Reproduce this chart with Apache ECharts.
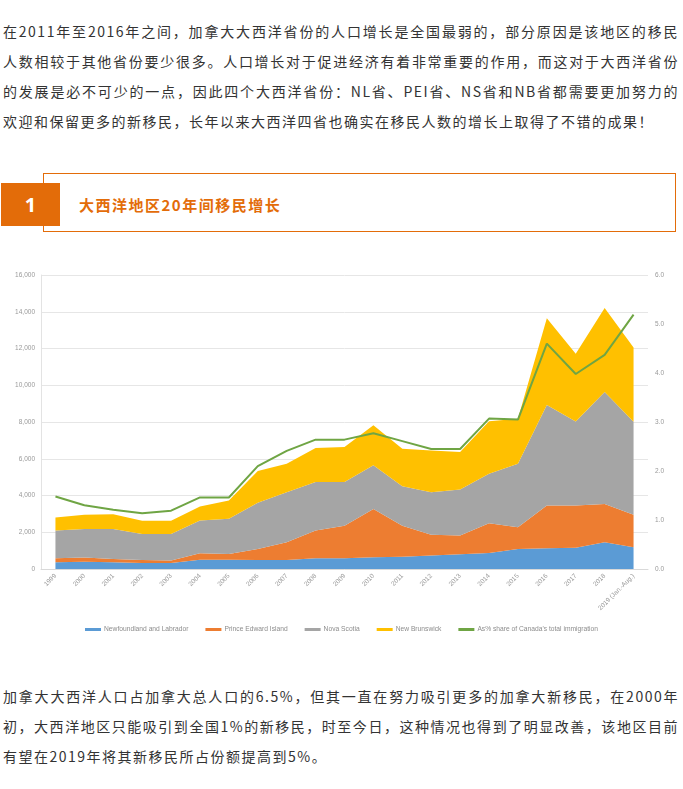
<!DOCTYPE html>
<html>
<head>
<meta charset="utf-8">
<script src="https://cdn.jsdelivr.net/npm/echarts@6/dist/echarts.min.js"></script>
<style>
  html, body { margin: 0; padding: 0; background: #fff; }
  body { width: 683px; height: 789px; position: relative; overflow: hidden;
         font-family: "Noto Sans CJK SC", "Noto Sans", sans-serif; color: #333; }
  .para { position: absolute; left: 3px; width: 676px; font-size: 14px; letter-spacing: 1.5px; line-height: 30px; }
  .para div { white-space: normal; }
  .j { text-align: justify; text-align-last: justify; }
  #box { position: absolute; left: 43px; top: 173px; width: 633px; height: 59px; border: 1px solid #E36C09; box-sizing: border-box; }
  #num { position: absolute; left: 1px; top: 183px; width: 59px; height: 43px; background: #E36C09; color: #fff;
         font-family: "Noto Sans", sans-serif; font-weight: bold; font-size: 20px; line-height: 43px; text-align: center; }
  #title { position: absolute; left: 79px; top: 194px; font-size: 15px; font-weight: bold; color: #E36C09; letter-spacing: 1.5px; line-height: 22px; }
  #chart { position: absolute; left: 0; top: 255px; width: 683px; height: 390px; }
</style>
</head>
<body>
<div class="para" style="top:16px;">
  <div class="j">在2011年至2016年之间，加拿大大西洋省份的人口增长是全国最弱的，部分原因是该地区的移民</div>
  <div class="j">人数相较于其他省份要少很多。人口增长对于促进经济有着非常重要的作用，而这对于大西洋省份</div>
  <div class="j">的发展是必不可少的一点，因此四个大西洋省份：NL省、PEI省、NS省和NB省都需要更加努力的</div>
  <div>欢迎和保留更多的新移民，长年以来大西洋四省也确实在移民人数的增长上取得了不错的成果！</div>
</div>
<div id="box"></div>
<div id="num">1</div>
<div id="title">大西洋地区20年间移民增长</div>
<div id="chart"></div>
<div class="para" style="top:681px;">
  <div class="j">加拿大大西洋人口占加拿大总人口的6.5%，但其一直在努力吸引更多的加拿大新移民，在2000年</div>
  <div class="j">初，大西洋地区只能吸引到全国1%的新移民，时至今日，这种情况也得到了明显改善，该地区目前</div>
  <div>有望在2019年将其新移民所占份额提高到5%。</div>
</div>
<script>
const categories = ['1999','2000','2001','2002','2003','2004','2005','2006','2007','2008','2009','2010','2011','2012','2013','2014','2015','2016','2017','2018','2019 (Jan.-Aug.)'];
const seriesNames = ['Newfoundland and Labrador','Prince Edward Island','Nova Scotia','New Brunswick',"As% share of Canada's total immigration"];
const nl  = [370, 400, 370, 330, 330, 510, 510, 490, 490, 580, 580, 640, 670, 730, 800, 870, 1090, 1130, 1160, 1450, 1180];
const pei = [210, 220, 180, 160, 130, 350, 310, 600, 970, 1510, 1780, 2630, 1690, 1130, 1020, 1620, 1180, 2330, 2290, 2090, 1770];
const ns  = [1510, 1560, 1630, 1420, 1450, 1780, 1910, 2510, 2720, 2640, 2370, 2370, 2150, 2320, 2510, 2690, 3460, 5460, 4580, 6090, 5060];
const nb  = [710, 770, 800, 710, 710, 760, 1000, 1730, 1550, 1850, 1910, 2180, 2030, 2270, 2040, 2860, 2450, 4730, 3690, 4580, 4040];
const share = [1.48, 1.30, 1.21, 1.14, 1.19, 1.46, 1.46, 2.10, 2.41, 2.64, 2.64, 2.77, 2.61, 2.45, 2.45, 3.07, 3.05, 4.60, 3.98, 4.37, 5.19];
const colors = ['#5B9BD5', '#ED7D31', '#A5A5A5', '#FFC000', '#6FA544'];

const chart = echarts.init(document.getElementById('chart'), null, { renderer: 'canvas' });
const areaSeries = (name, data, i) => ({
  name, type: 'line', stack: 'total', data, symbol: 'none', smooth: false,
  lineStyle: { width: 0 }, areaStyle: { color: colors[i], opacity: 1 },
  itemStyle: { color: colors[i] }, emphasis: { disabled: true }, z: 2
});
chart.setOption({
  animation: false,
  color: colors,
  grid: { left: 41, right: 35, top: 20, bottom: 76 },
  legend: {
    top: 366, left: 'center', icon: 'rect', itemWidth: 16, itemHeight: 3, itemGap: 17,
    textStyle: { fontSize: 6.7, color: '#8c8c8c', fontFamily: 'Liberation Sans', padding: [0, 0, 0, -2] },
    data: seriesNames
  },
  xAxis: {
    type: 'category', data: categories, boundaryGap: true,
    axisLine: { lineStyle: { color: '#d9d9d9' } },
    axisTick: { show: false },
    axisLabel: { rotate: 45, interval: 0, fontSize: 6.5, color: '#999', fontFamily: 'Liberation Sans', margin: 6 }
  },
  yAxis: [
    {
      type: 'value', min: 0, max: 16000, interval: 2000,
      axisLine: { show: true, lineStyle: { color: '#e3e3e3' } },
      axisTick: { show: false },
      splitLine: { lineStyle: { color: '#e6e6e6' } },
      axisLabel: { fontSize: 6.5, color: '#999', fontFamily: 'Liberation Sans', margin: 6,
                   formatter: v => v.toLocaleString('en-US') }
    },
    {
      type: 'value', min: 0, max: 6, interval: 1,
      axisLine: { show: false }, axisTick: { show: false }, splitLine: { show: false },
      axisLabel: { fontSize: 6.5, color: '#999', fontFamily: 'Liberation Sans', margin: 7,
                   formatter: v => v.toFixed(1) }
    }
  ],
  series: [
    areaSeries(seriesNames[0], nl, 0),
    areaSeries(seriesNames[1], pei, 1),
    areaSeries(seriesNames[2], ns, 2),
    areaSeries(seriesNames[3], nb, 3),
    {
      name: seriesNames[4], type: 'line', yAxisIndex: 1, data: share, symbol: 'none', smooth: false,
      lineStyle: { color: colors[4], width: 2 }, itemStyle: { color: colors[4] }, z: 5
    }
  ]
});
</script>
</body>
</html>
